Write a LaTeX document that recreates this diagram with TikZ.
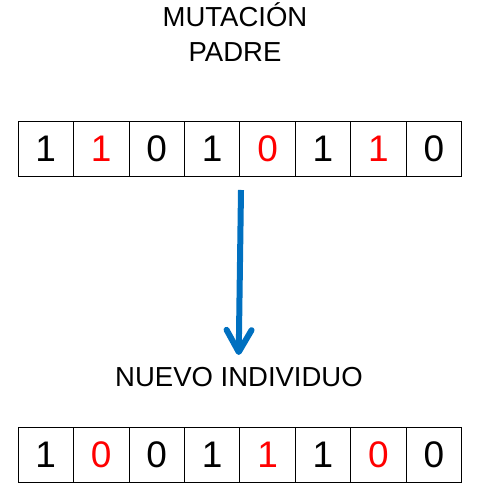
\documentclass[tikz,border=0pt]{standalone}
\usepackage{fontspec}
\setmainfont{Liberation Sans}
\usetikzlibrary{positioning,arrows.meta}
\definecolor{arrowblue}{HTML}{0070C0}
\begin{document}
\begin{tikzpicture}[x=1pt,y=1pt,
            bit/.style = {draw, line width=0.8pt,
                        minimum width=55.46pt,
                        minimum height=55pt,
                        inner sep=0pt, outer sep=0pt,
                        font=\fontsize{37}{40}\selectfont},
            flip/.style = {bit, text=red},
            title/.style = {anchor=base, inner sep=0pt,
                        font=\fontsize{27.5}{33}\selectfont}]
            \useasboundingbox (0,0) rectangle (477,489);
            % Titles
            \node[title] (mut) at (235,462.3) {MUTACIÓN};
            \node[title] (pad) at (235,427.3) {PADRE};
            % Parent
            \node[bit] (p1) at (45.73,340.2) {1};
            \node[flip,right=0pt of p1] (p2) {1};
            \node[bit,right=0pt of p2] (p3) {0};
            \node[bit,right=0pt of p3] (p4) {1};
            \node[flip,right=0pt of p4] (p5) {0};
            \node[bit,right=0pt of p5] (p6) {1};
            \node[flip,right=0pt of p6] (p7) {1};
            \node[bit,right=0pt of p7] (p8) {0};
            % New individual
            \node[title] (new) at (239,102.3) {NUEVO INDIVIDUO};
            \node[bit] (n1) at (45.73,34.2) {1};
            \node[flip,right=0pt of n1] (n2) {0};
            \node[bit,right=0pt of n2] (n3) {0};
            \node[bit,right=0pt of n3] (n4) {1};
            \node[flip,right=0pt of n4] (n5) {1};
            \node[bit,right=0pt of n5] (n6) {1};
            \node[flip,right=0pt of n6] (n7) {0};
            \node[bit,right=0pt of n7] (n8) {0};
            % Arrow
            \coordinate (from) at (241,299);
            \coordinate (to) at (238.7,134);
            \draw[arrowblue, line width=6pt,
                -{Straight Barb[length=22pt, width=25pt, round]}] (from) -- (to);
\end{tikzpicture}
\end{document}
